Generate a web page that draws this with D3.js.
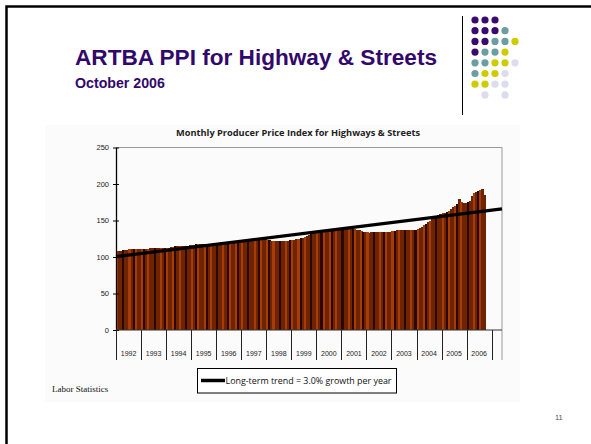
<!DOCTYPE html>
<html><head><meta charset="utf-8">
<script src="https://cdn.jsdelivr.net/npm/d3@7/dist/d3.min.js"></script>
<style>html,body{margin:0;padding:0;background:#fff;overflow:hidden}</style>
</head><body>
<svg id="c" width="591" height="444" xmlns="http://www.w3.org/2000/svg"></svg>
<script>
// ---------- data ----------
const slideTitle = "ARTBA PPI for Highway & Streets";
const slideSubtitle = "October 2006";
const chartTitle = "Monthly Producer Price Index for Highways & Streets";
const legendLabel = "Long-term trend = 3.0% growth per year";
const sourceText = "Labor Statistics";
const pageNumber = "11";

const years = ["1992","1993","1994","1995","1996","1997","1998","1999","2000","2001","2002","2003","2004","2005","2006"];
const ppi1992 = [108.5,108.6,108.8,109.0,109.5,110.0,110.3,110.4,110.5,110.4,110.3,110.5];
const ppi1993 = [110.6,110.8,111.2,111.5,111.8,112.0,112.0,111.9,111.8,111.9,112.0,112.3];
const ppi1994 = [112.6,113.0,113.5,114.2,114.8,115.2,115.5,115.6,115.4,115.3,115.5,115.8];
const ppi1995 = [116.2,116.8,117.3,117.6,117.9,118.0,118.1,118.0,118.2,118.4,118.6,118.9];
const ppi1996 = [119.2,119.6,120.2,120.6,121.0,121.2,121.3,121.2,121.4,121.8,122.2,122.6];
const ppi1997 = [123.0,123.3,123.6,123.8,124.0,124.2,124.3,124.4,124.5,124.6,124.4,124.0];
const ppi1998 = [123.4,122.8,122.4,122.2,122.2,122.3,122.4,122.3,122.2,122.3,122.5,122.8];
const ppi1999 = [123.2,123.6,124.3,125.0,125.8,126.6,127.6,128.8,130.0,131.2,132.4,133.5];
const ppi2000 = [134.5,135.4,136.2,136.8,137.2,137.6,137.8,138.0,138.2,138.3,138.4,138.4];
const ppi2001 = [138.6,138.9,139.2,139.4,139.3,139.0,138.5,137.6,136.4,135.3,134.5,134.0];
const ppi2002 = [133.6,133.5,133.6,133.8,134.0,134.1,134.2,134.2,134.1,134.2,134.4,134.6];
const ppi2003 = [135.2,135.8,136.4,136.6,136.6,136.7,136.8,136.8,136.9,137.0,137.2,137.6];
const ppi2004 = [138.4,139.5,141.0,143.2,145.5,147.6,149.8,151.8,153.5,155.3,157.2,158.8];
const ppi2005 = [159.8,160.5,161.3,163.0,166.0,168.0,169.5,172.0,179.5,176.0,174.0,174.5];
const ppi2006 = [175.5,176.5,184.0,187.5,189.0,190.0,191.5,193.6,185.0];
const ppiByYear = [ppi1992,ppi1993,ppi1994,ppi1995,ppi1996,ppi1997,ppi1998,ppi1999,ppi2000,ppi2001,ppi2002,ppi2003,ppi2004,ppi2005,ppi2006];

const axisStart = "1992-01";
const axisEnd = "2007-06";
const trendDates = ["1992-01","2007-06"];
const trendValues = [100.5,166];
const yTicks = [0,50,100,150,200,250];

// decorative dot grid (logo)
const dotRows = [
  ["p","p","p"],
  ["p","p","p","t"],
  ["p","p","t","t","y"],
  ["p","t","t","y"],
  ["t","t","y","y","l"],
  ["t","y","y","l"],
  ["y","y","l","l"],
  [null,"l",null,"l"]
];

// ---------- drawing ----------
const svg = d3.select("#c");
const parseM = d3.timeParse("%Y-%m");
const dotColor = {p:"#3a0a6e", t:"#6a9ea0", y:"#cccc00", l:"#dcdcee"};

// slide frame
svg.append("rect").attr("x",6.5).attr("y",6.5).attr("width",700).attr("height",700)
  .attr("fill","none").attr("stroke","#000").attr("stroke-width",2.5);

// chart image background
svg.append("rect").attr("x",45).attr("y",125).attr("width",475).attr("height",277).attr("fill","#fbfbfb");

// titles
svg.append("text").attr("x",75).attr("y",65).text(slideTitle)
  .attr("font-family","'Liberation Sans', Arial, sans-serif").attr("font-weight","bold")
  .attr("font-size",22.6).attr("fill","#33086b");
svg.append("text").attr("x",75).attr("y",88).text(slideSubtitle)
  .attr("font-family","'Liberation Sans', Arial, sans-serif").attr("font-weight","bold")
  .attr("font-size",14.2).attr("fill","#33086b");

// separator line
svg.append("line").attr("x1",462.5).attr("x2",462.5).attr("y1",16).attr("y2",115)
  .attr("stroke","#000").attr("stroke-width",1);

// dots
dotRows.forEach((row,ri)=>{
  row.forEach((c,ci)=>{
    if(!c) return;
    svg.append("circle").attr("cx",475+ci*10).attr("cy",20+ri*10.7).attr("r",3.6).attr("fill",dotColor[c]);
  });
});

// chart
const L = 116, R = 502, T = 147.5, B = 330;
const x = d3.scaleTime().domain([parseM(axisStart), parseM(axisEnd)]).range([L, R]);
const y = d3.scaleLinear().domain([0,250]).range([B, T]);

svg.append("text").attr("x",(176+420)/2).attr("y",136).attr("text-anchor","middle").text(chartTitle)
  .attr("font-family","'Open Sans', sans-serif").attr("font-weight","bold").attr("font-size",8.5)
  .attr("textLength",244).attr("lengthAdjust","spacingAndGlyphs").attr("fill","#222");

// gradient for bars
const defs = svg.append("defs");
const g = defs.append("linearGradient").attr("id","barg").attr("x1","0").attr("x2","1").attr("y1","0").attr("y2","0");
g.append("stop").attr("offset","0%").attr("stop-color","#4a1200");
g.append("stop").attr("offset","50%").attr("stop-color","#8f3004");
g.append("stop").attr("offset","100%").attr("stop-color","#5e1c00");

// plot frame (top & right gray)
svg.append("line").attr("x1",L).attr("x2",R).attr("y1",T).attr("y2",T).attr("stroke","#999").attr("stroke-width",1);
svg.append("line").attr("x1",R).attr("x2",R).attr("y1",T).attr("y2",360).attr("stroke","#999").attr("stroke-width",1);

// bars
const bars = [];
ppiByYear.forEach((arr,yi)=>{
  arr.forEach((v,mi)=>{
    bars.push({date:new Date(+years[yi], mi, 1), value:v});
  });
});
svg.append("g").attr("shape-rendering","crispEdges").selectAll("rect").data(bars).join("rect")
  .attr("x",d=>x(d.date))
  .attr("width",d=>x(d3.timeMonth.offset(d.date,1))-x(d.date)+0.4)
  .attr("y",d=>y(d.value))
  .attr("height",d=>B-y(d.value))
  .attr("fill",(d,i)=> i%5===3 ? "#2a0800" : (i%3===0 ? "#a83c08" : "#6e2400"));

// trend line
const trend = trendDates.map((d,i)=>({date:parseM(d), value:trendValues[i]}));
svg.append("path").datum(trend)
  .attr("d", d3.line().x(d=>x(d.date)).y(d=>y(d.value)))
  .attr("stroke","#000").attr("stroke-width",3.2).attr("fill","none");

// y axis
const yAxis = d3.axisLeft(y).tickValues(yTicks).tickSizeInner(3).tickSizeOuter(0).tickPadding(4);
const ya = svg.append("g").attr("transform",`translate(${L},0)`).call(yAxis);
ya.select(".domain").attr("stroke","#000").attr("stroke-width",1.3);
ya.selectAll(".tick line").attr("x2",3).attr("x1",-3).attr("stroke","#000");
ya.selectAll(".tick text").attr("font-family","'Liberation Sans', Arial, sans-serif").attr("font-size",7.5).attr("fill","#222");

// x axis (year boxes)
svg.append("line").attr("x1",L).attr("x2",R).attr("y1",B).attr("y2",B).attr("stroke","#333").attr("stroke-width",1);
const boundaries = d3.timeYear.range(parseM(axisStart), d3.timeMonth.offset(parseM(axisEnd),1));
svg.append("g").selectAll("line").data(boundaries).join("line")
  .attr("x1",d=>Math.round(x(d))+0.5).attr("x2",d=>Math.round(x(d))+0.5)
  .attr("y1",B).attr("y2",360).attr("stroke","#222").attr("stroke-width",1);
svg.append("g").selectAll("text").data(years).join("text")
  .attr("x",d=>(x(new Date(+d,0,1))+x(new Date(+d+1,0,1)))/2)
  .attr("y",356).attr("text-anchor","middle").text(d=>d)
  .attr("font-family","'Liberation Sans', Arial, sans-serif").attr("font-size",7).attr("fill","#222");

// legend
svg.append("rect").attr("x",197.5).attr("y",368.5).attr("width",199).attr("height",24.5)
  .attr("fill","#fff").attr("stroke","#000").attr("stroke-width",1);
svg.append("line").attr("x1",201).attr("x2",225).attr("y1",380.5).attr("y2",380.5)
  .attr("stroke","#000").attr("stroke-width",3.5);
svg.append("text").attr("x",225.5).attr("y",384).text(legendLabel)
  .attr("font-family","'Open Sans', sans-serif").attr("font-size",8.5)
  .attr("textLength",166).attr("lengthAdjust","spacingAndGlyphs").attr("fill","#111");

// source text
svg.append("text").attr("x",52).attr("y",392).text(sourceText)
  .attr("font-family","'Liberation Serif', 'Times New Roman', serif").attr("font-size",9).attr("fill","#111");

// page number
svg.append("text").attr("x",555).attr("y",420).text(pageNumber)
  .attr("font-family","'Liberation Sans', Arial, sans-serif").attr("font-size",7.5).attr("fill","#555");
</script>
</body></html>
